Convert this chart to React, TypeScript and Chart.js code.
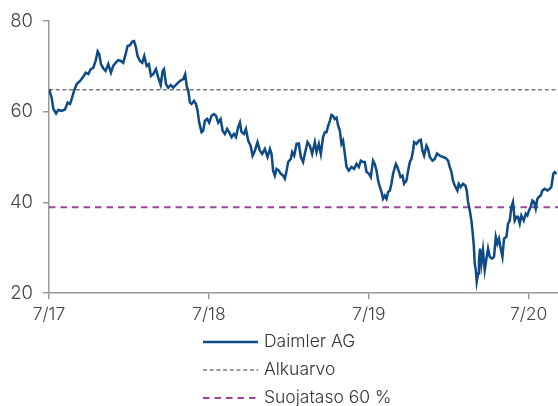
import React, { useEffect, useRef } from "react";
import { Chart, registerables } from "chart.js";

Chart.register(...registerables);

// months since July 2017
const months: number[] = [
  0, 0.2, 0.32, 0.53, 0.7, 0.95, 1.2, 1.4, 1.58, 1.7, 1.9, 2.08, 2.33, 2.57, 2.75, 2.95, 3.13, 3.32, 3.5, 3.65,
  3.77, 3.9, 4.07, 4.25, 4.45, 4.65, 4.82, 5.0, 5.2, 5.4, 5.57, 5.75, 5.9, 6.08, 6.25, 6.38, 6.5, 6.65, 6.83, 7.0,
  7.15, 7.33, 7.5, 7.65, 7.82, 8.03, 8.2, 8.38, 8.53, 8.63, 8.78, 8.95, 9.13, 9.32, 9.58, 9.83, 10.07, 10.22, 10.33, 10.45,
  10.58, 10.7, 10.88, 11.03, 11.15, 11.27, 11.45, 11.57, 11.7, 11.87, 12.02, 12.2, 12.38, 12.53, 12.7, 12.88, 13.03, 13.2, 13.37, 13.52,
  13.7, 13.88, 14.03, 14.2, 14.33, 14.45, 14.63, 14.78, 14.95, 15.13, 15.28, 15.45, 15.65, 15.83, 16.0, 16.2, 16.4, 16.58, 16.7, 16.82,
  16.95, 17.08, 17.25, 17.4, 17.57, 17.7, 17.83, 17.95, 18.15, 18.25, 18.4, 18.58, 18.75, 18.9, 19.07, 19.2, 19.4, 19.58, 19.75, 19.95,
  20.08, 20.25, 20.4, 20.57, 20.7, 20.83, 20.95, 21.08, 21.2, 21.32, 21.45, 21.58, 21.7, 21.83, 21.95, 22.07, 22.15, 22.25, 22.33, 22.5,
  22.7, 22.9, 23.08, 23.25, 23.4, 23.57, 23.7, 23.83, 24.02, 24.15, 24.32, 24.45, 24.58, 24.7, 24.83, 24.95, 25.07, 25.2, 25.33, 25.45,
  25.58, 25.7, 25.82, 26.03, 26.15, 26.27, 26.38, 26.53, 26.65, 26.83, 26.95, 27.08, 27.2, 27.32, 27.4, 27.58, 27.75, 27.9, 28.03, 28.15,
  28.33, 28.45, 28.58, 28.78, 28.95, 29.12, 29.33, 29.57, 29.78, 29.95, 30.08, 30.2, 30.32, 30.45, 30.65, 30.75, 30.9, 31.07, 31.25, 31.35,
  31.45, 31.58, 31.7, 31.78, 31.88, 31.95, 32.03, 32.1, 32.2, 32.27, 32.35, 32.45, 32.57, 32.7, 32.83, 32.95, 33.08, 33.25, 33.4, 33.53,
  33.65, 33.77, 33.9, 34.03, 34.15, 34.33, 34.45, 34.58, 34.7, 34.82, 34.95, 35.08, 35.2, 35.33, 35.45, 35.63, 35.78, 35.9, 36.02, 36.15,
  36.28, 36.4, 36.53, 36.65, 36.77, 36.9, 37.03, 37.2, 37.4, 37.58, 37.7, 37.85, 37.95, 38.1,
];

const prices: number[] = [
  65.0, 63.1, 60.7, 59.6, 60.4, 60.2, 60.5, 62.0, 61.7, 62.8, 64.8, 66.1, 66.8, 67.7, 68.6, 68.3, 69.4, 69.7, 71.2, 73.3,
  72.7, 70.5, 69.6, 69.0, 70.5, 68.6, 70.1, 70.8, 71.4, 71.2, 70.8, 72.7, 74.5, 74.7, 75.5, 75.6, 74.5, 72.3, 71.2, 70.8,
  72.3, 70.1, 70.5, 67.9, 68.3, 69.4, 67.5, 65.9, 69.0, 69.4, 66.1, 65.3, 65.9, 65.3, 66.1, 66.8, 67.2, 68.3, 65.7, 64.6,
  62.0, 61.7, 62.4, 61.7, 60.2, 57.6, 55.5, 55.8, 58.0, 58.4, 57.6, 59.1, 59.5, 59.1, 57.6, 58.4, 55.8, 55.1, 56.2, 55.5,
  54.4, 55.1, 54.4, 56.6, 57.6, 55.5, 55.1, 56.2, 53.6, 52.5, 50.3, 51.4, 53.3, 51.4, 50.7, 51.8, 50.0, 51.8, 50.7, 47.0,
  45.9, 47.4, 47.0, 46.3, 45.9, 45.2, 47.0, 48.9, 49.6, 51.1, 50.3, 52.9, 53.0, 50.0, 48.9, 50.7, 53.3, 52.5, 50.7, 53.3,
  51.1, 52.9, 50.7, 54.4, 55.5, 55.5, 56.9, 58.0, 59.3, 59.1, 58.4, 58.7, 56.9, 55.8, 52.9, 53.6, 51.8, 49.6, 47.8, 47.0,
  47.8, 47.4, 48.5, 47.8, 49.2, 48.9, 48.9, 46.7, 46.3, 45.6, 49.2, 48.5, 47.0, 44.8, 43.4, 42.3, 40.8, 41.5, 40.8, 42.3,
  42.6, 44.1, 46.3, 48.5, 47.8, 46.7, 45.6, 45.9, 44.1, 44.8, 47.0, 48.9, 49.6, 51.4, 53.3, 52.9, 53.6, 53.8, 51.4, 50.3,
  52.5, 51.8, 50.0, 49.2, 49.6, 50.8, 50.3, 50.0, 49.8, 49.2, 47.8, 46.7, 44.8, 43.7, 42.6, 44.1, 43.4, 44.1, 43.7, 42.6,
  40.1, 38.2, 36.0, 33.8, 30.5, 26.5, 25.1, 22.5, 24.3, 27.3, 29.8, 26.5, 29.5, 25.1, 27.6, 29.8, 28.0, 27.6, 28.0, 32.4,
  30.9, 32.0, 29.8, 28.0, 32.0, 32.4, 35.3, 36.0, 39.0, 40.1, 36.0, 36.8, 36.8, 35.3, 37.1, 36.0, 37.5, 37.1, 38.2, 39.0,
  40.4, 40.1, 38.6, 40.8, 41.2, 41.5, 42.6, 43.0, 42.6, 43.0, 43.4, 46.3, 46.7, 46.3,
];

const seriesNames: string[] = ["Daimler AG", "Alkuarvo", "Suojataso 60 %"];
const initialLevel = 64.85;
const barrierLevel = 38.9;
const tickMonths: number[] = [0, 12, 24, 36];
const tickLabels: string[] = ["7/17", "7/18", "7/19", "7/20"];
const yTicks: number[] = [20, 40, 60, 80];
const xEnd = 38.2;

const FONT = "Inter, 'Open Sans', sans-serif";

const legendPlugin = {
  id: "stackedLegend",
  afterDraw(chart: any) {
    const ctx = chart.ctx;
    const rows = [342, 370, 398];
    chart.data.datasets.forEach((ds: any, i: number) => {
      const y = rows[i];
      ctx.save();
      ctx.strokeStyle = ds.borderColor;
      ctx.lineWidth = ds.borderWidth;
      ctx.setLineDash(ds.borderDash || []);
      ctx.beginPath();
      ctx.moveTo(203, y);
      ctx.lineTo(258, y);
      ctx.stroke();
      ctx.setLineDash([]);
      ctx.fillStyle = "#333";
      ctx.font = `300 17.5px ${FONT}`;
      ctx.textBaseline = "middle";
      ctx.textAlign = "left";
      ctx.fillText(ds.label, 264, y);
      ctx.restore();
    });
  },
};

export default function App() {
  const ref = useRef<HTMLCanvasElement>(null);
  useEffect(() => {
    if (!ref.current) return;
    const pricePts = months.map((m, i) => ({ x: m, y: prices[i] }));
    const chart = new Chart(ref.current, {
      type: "line",
      data: {
        datasets: [
          {
            label: seriesNames[0],
            data: pricePts,
            borderColor: "#0e4a86",
            borderWidth: 2.5,
            pointRadius: 0,
            tension: 0,
          },
          {
            label: seriesNames[1],
            data: [
              { x: 0, y: initialLevel },
              { x: xEnd, y: initialLevel },
            ],
            borderColor: "#7a7a7a",
            borderWidth: 1.5,
            borderDash: [4, 2.7],
            pointRadius: 0,
          },
          {
            label: seriesNames[2],
            data: [
              { x: 0, y: barrierLevel },
              { x: xEnd, y: barrierLevel },
            ],
            borderColor: "#a0449e",
            borderWidth: 2,
            borderDash: [6.5, 5],
            pointRadius: 0,
          },
        ],
      },
      options: {
        responsive: false,
        animation: false,
        layout: { padding: { top: 20, bottom: 83, left: 0, right: 0 } },
        plugins: { legend: { display: false }, tooltip: { enabled: false } },
        scales: {
          x: {
            type: "linear",
            min: 0,
            max: xEnd,
            afterBuildTicks: (s: any) => {
              s.ticks = tickMonths.map((v) => ({ value: v }));
            },
            afterFit: (s: any) => {
              s.height = 30;
            },
            ticks: {
              callback: (v: any) => tickLabels[tickMonths.indexOf(Number(v))] ?? "",
              font: { family: FONT, size: 17.5, weight: "300" },
              color: "#444",
              padding: 5,
              maxRotation: 0,
              autoSkip: false,
            },
            grid: { drawOnChartArea: false, tickLength: 6, color: "#999", lineWidth: 1.5 },
            border: { color: "#999", width: 1.5 },
          },
          y: {
            min: 20,
            max: 80,
            afterBuildTicks: (s: any) => {
              s.ticks = yTicks.map((v) => ({ value: v }));
            },
            afterFit: (s: any) => {
              s.width = 49;
            },
            ticks: {
              font: { family: FONT, size: 18.5, weight: "300" },
              color: "#444",
              padding: 10,
            },
            grid: { drawOnChartArea: false, tickLength: 6, color: "#999", lineWidth: 1.5 },
            border: { color: "#999", width: 1.5 },
          },
        },
      },
      plugins: [legendPlugin],
    });
    return () => chart.destroy();
  }, []);
  return (
    <div style={{ position: "absolute", left: 0, top: 0, width: 558, height: 406, background: "#fff" }}>
      <canvas ref={ref} width={558} height={406} />
    </div>
  );
}
